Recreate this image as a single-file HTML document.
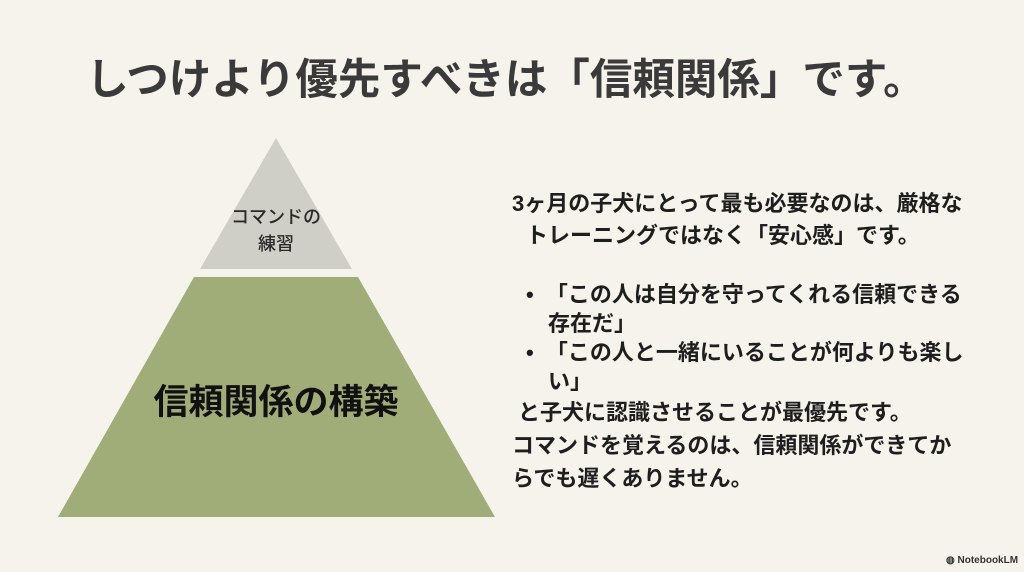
<!DOCTYPE html>
<html><head><meta charset="utf-8"><style>
body{margin:0;width:1024px;height:572px;background:#f5f3ec;position:relative;overflow:hidden;font-family:"Liberation Sans","Noto Sans CJK JP",sans-serif;color:#1e1e1e}
.t{position:absolute;white-space:nowrap;font-weight:bold}
</style></head><body>
<div class="t" style="left:0;width:1012px;text-align:center;top:46px;font-size:42.5px;color:#3a3a3a;">しつけより優先すべきは「信頼関係」です。</div>
<svg width="1024" height="572" style="position:absolute;left:0;top:0">
<polygon points="276,138 352,269 200,269" fill="#d0cfc7"/>
<polygon points="194,277 358,277 495,517 58,517" fill="#a0ad78"/>
</svg>
<div class="t" style="left:200px;width:152px;text-align:center;top:204px;font-size:18px;line-height:27px;font-weight:500;color:#2a2a2a">コマンドの<br>練習</div>
<div class="t" style="left:100px;width:352px;text-align:center;top:374px;font-size:35px;color:#111">信頼関係の構築</div>
<div style="position:absolute;left:512px;top:188px;font-size:22px;line-height:32px;font-weight:bold;white-space:nowrap">
<div>3ヶ月の子犬にとって最も必要なのは、厳格な</div>
<div style="padding-left:14px">トレーニングではなく「安心感」です。</div>
<div style="height:28px"></div>
<div style="line-height:29px">
<div style="padding-left:14px">•&nbsp;&nbsp;「この人は自分を守ってくれる信頼できる</div>
<div style="padding-left:36px">存在だ」</div>
<div style="padding-left:14px">•&nbsp;&nbsp;「この人と一緒にいることが何よりも楽し</div>
<div style="padding-left:36px">い」</div>
</div>
<div style="padding-left:6px;line-height:33px">と子犬に認識させることが最優先です。</div>
<div style="line-height:33px">コマンドを覚えるのは、信頼関係ができてか</div>
<div style="line-height:33px">らでも遅くありません。</div>
</div>
<div class="t" style="left:946px;top:555px;font-size:10px;color:#333">◍ NotebookLM</div>
</body></html>
